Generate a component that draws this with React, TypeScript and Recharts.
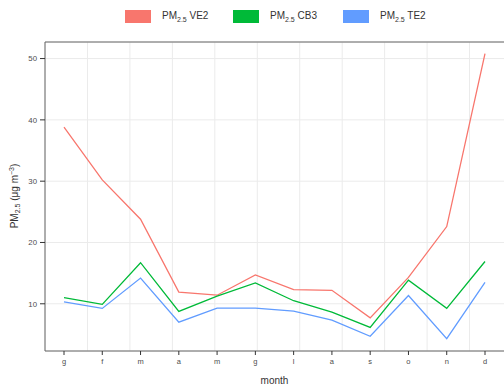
import { CartesianGrid, Label, Line, LineChart, XAxis, YAxis } from "recharts";

const months = ["g", "f", "m", "a", "m", "g", "l", "a", "s", "o", "n", "d"];
const ve2 = [38.8, 30.2, 23.8, 11.9, 11.4, 14.7, 12.3, 12.2, 7.7, 14.3, 22.6, 50.8];
const cb3 = [11.0, 9.9, 16.7, 8.75, 11.25, 13.4, 10.5, 8.65, 6.15, 13.85, 9.25, 16.9];
const te2 = [10.3, 9.25, 14.2, 7.0, 9.3, 9.3, 8.8, 7.35, 4.7, 11.35, 4.3, 13.5];
const yTicks = [10, 20, 30, 40, 50];

const series = [
  { key: "ve2", name: "VE2", color: "#F8766D" },
  { key: "cb3", name: "CB3", color: "#00BA38" },
  { key: "te2", name: "TE2", color: "#619CFF" },
];

const data = months.map((month, i) => ({
  month,
  ve2: ve2[i],
  cb3: cb3[i],
  te2: te2[i],
}));

const font = "'Liberation Sans', Arial, sans-serif";

function YTitle() {
  return (
    <text
      transform="translate(18,196) rotate(-90)"
      textAnchor="middle"
      fontSize={10}
      fill="#333"
      fontFamily={font}
    >
      PM
      <tspan dy={2} fontSize={7}>2.5</tspan>
      <tspan dy={-2}> (μg m</tspan>
      <tspan dy={-4} fontSize={7}>−3</tspan>
      <tspan dy={4}>)</tspan>
    </text>
  );
}

function TopLegend() {
  const starts = [125, 233, 343];
  return (
    <>
      {series.map((s, i) => (
        <div
          key={s.key}
          style={{
            position: "absolute",
            left: starts[i],
            top: 10,
            display: "flex",
            alignItems: "center",
            fontFamily: font,
            fontSize: 10,
            color: "#333",
          }}
        >
          <div style={{ width: 26, height: 13, background: s.color, marginRight: 11 }} />
          <span>
            PM<sub style={{ fontSize: 7 }}>2.5</sub> {s.name}
          </span>
        </div>
      ))}
    </>
  );
}

export default function App() {
  return (
    <div
      style={{
        position: "absolute",
        left: 0,
        top: 0,
        width: 504,
        height: 387,
        overflow: "hidden",
        background: "#fff",
      }}
    >
      <LineChart
        width={512}
        height={387}
        data={data}
        margin={{ top: 37, right: 0, left: 5, bottom: 6 }}
      >
        <CartesianGrid stroke="#ebebeb" strokeWidth={1} />
        <XAxis
          dataKey="month"
          xAxisId="bottom"
          height={30}
          padding={{ left: 19, right: 27 }}
          stroke="#666"
          tickSize={4}
          tickMargin={4}
          tick={{ fontSize: 7.5, fill: "#4d4d4d", fontFamily: font }}
          tickLine={{ stroke: "#333" }}
        >
          <Label
            value="month"
            position="bottom"
            offset={-4}
            dx={-4}
            style={{ fontSize: 10, fill: "#333", fontFamily: font }}
          />
        </XAxis>
        <XAxis
          dataKey="month"
          xAxisId="top"
          orientation="top"
          height={5}
          padding={{ left: 19, right: 27 }}
          stroke="#666"
          tickSize={5}
          tick={false}
          tickLine={{ stroke: "#333" }}
        />
        <YAxis
          width={40}
          domain={[2.3, 52.7]}
          ticks={yTicks}
          allowDataOverflow
          stroke="#666"
          tickSize={5}
          tickMargin={3}
          tick={{ fontSize: 7.8, fill: "#4d4d4d", fontFamily: font }}
          tickLine={{ stroke: "#333" }}
        >
          <Label content={<YTitle />} />
        </YAxis>
        {series.map((s) => (
          <Line
            key={s.key}
            xAxisId="bottom"
            type="linear"
            dataKey={s.key}
            stroke={s.color}
            strokeWidth={1.3}
            dot={false}
            isAnimationActive={false}
          />
        ))}
      </LineChart>
      <TopLegend />
    </div>
  );
}
